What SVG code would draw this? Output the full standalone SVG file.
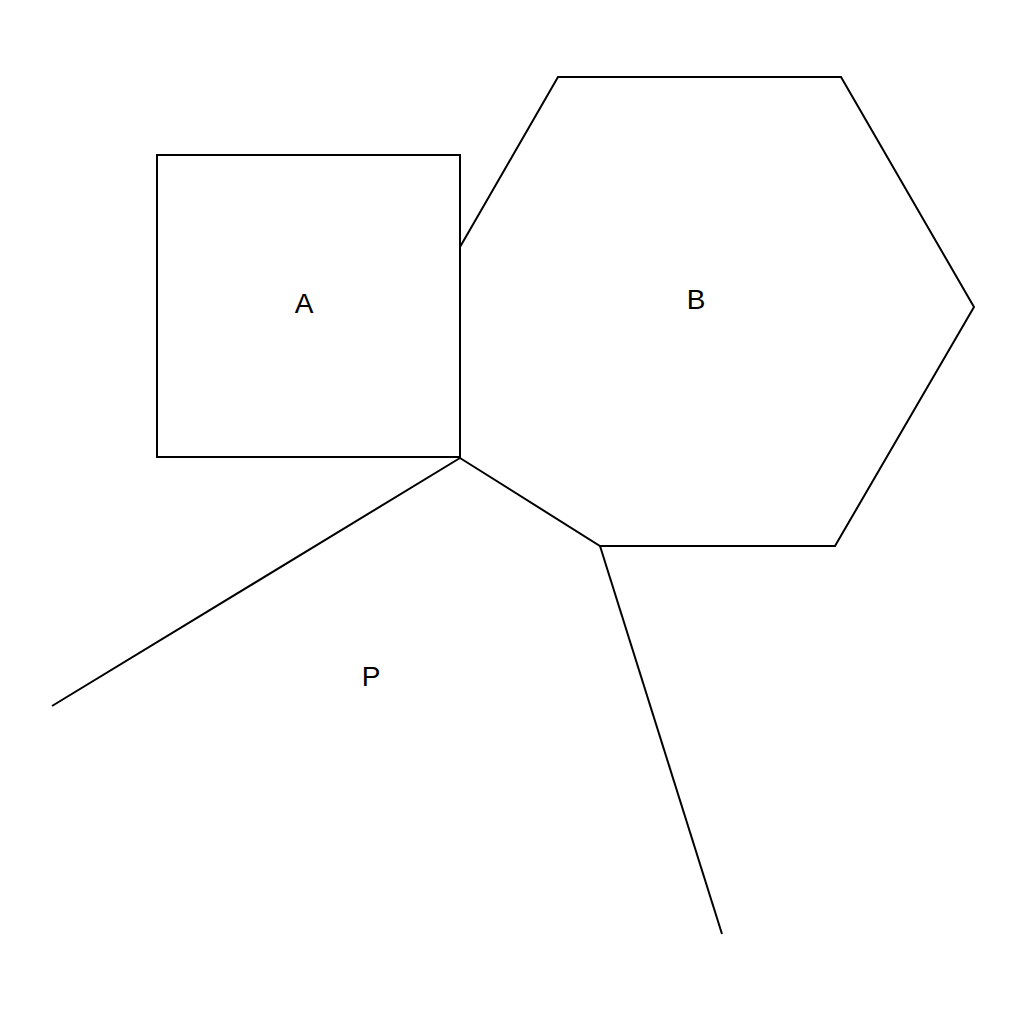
<svg xmlns="http://www.w3.org/2000/svg" width="1024" height="1024" viewBox="0 0 1024 1024">
<style>
.s{fill:none;stroke:#000;stroke-width:2;stroke-linejoin:miter}
.t{font-family:"Liberation Sans",Arial,sans-serif;font-size:28px;fill:#000;text-anchor:middle}
</style>
<rect width="1024" height="1024" fill="#fff"/>
<g id="A">
<rect class="s" x="157" y="155" width="303" height="302"/>
<text class="t" x="304" y="313">A</text>
</g>
<g id="B">
<polyline class="s" points="460,247 558,77 841,77 974,307 835,546 600,546 460,458"/>
<text class="t" x="696" y="309">B</text>
</g>
<g id="P">
<text class="t" x="371" y="686">P</text>
</g>
<g id="connectors">
<line class="s" x1="460" y1="458" x2="52" y2="706"/>
<line class="s" x1="600" y1="546" x2="722" y2="934"/>
</g>
</svg>
